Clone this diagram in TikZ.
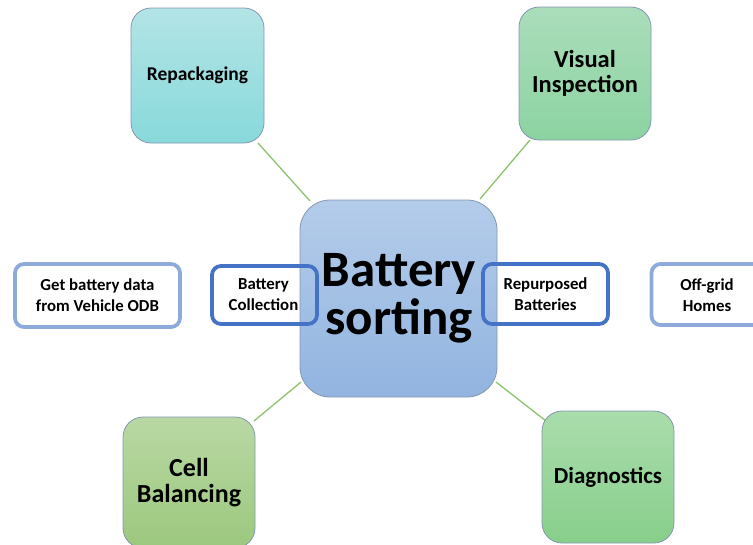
\documentclass[tikz,border=0pt]{standalone}
\usepackage{fontspec}
\setmainfont{Carlito}
\definecolor{linegreen}{HTML}{8DC26F}
\definecolor{boxgray}{HTML}{8497B0}
\definecolor{darkblue}{HTML}{4472C4}
\definecolor{lightblue}{HTML}{8EAADB}
\definecolor{repT}{HTML}{B3E4E6}\definecolor{repB}{HTML}{88D9DB}
\definecolor{visT}{HTML}{ABDDBB}\definecolor{visB}{HTML}{8CD3A1}
\definecolor{celT}{HTML}{B9D8A4}\definecolor{celB}{HTML}{9CC87E}
\definecolor{diaT}{HTML}{AADCAC}\definecolor{diaB}{HTML}{88CF8B}
\definecolor{cenT}{HTML}{B4CCEA}\definecolor{cenB}{HTML}{92B4E0}
\begin{document}
\begin{tikzpicture}[x=1pt,y=-1pt,
  bigbox/.style={draw=boxgray, line width=0.8pt, rounded corners=20pt, align=center, font=\bfseries, inner sep=0pt},
  smallbox/.style={rounded corners=9pt, line width=3.8pt, align=center, font=\bfseries\fontsize{16.8}{21}\selectfont, inner sep=0pt},
  smalltext/.style={font=\bfseries\fontsize{16.8}{21}\selectfont, align=center, inner sep=0pt},
  link/.style={linegreen, line width=1.3pt}]
\useasboundingbox (0,0) rectangle (753,544);
% connectors
\coordinate (l1a) at (258,143); \coordinate (l1b) at (310,201);
\coordinate (l2a) at (530,140); \coordinate (l2b) at (480,199);
\coordinate (l3a) at (254,421); \coordinate (l3b) at (301,382);
\coordinate (l4a) at (496,382); \coordinate (l4b) at (546,421);
\draw[link] (l1a) -- (l1b);
\draw[link] (l2a) -- (l2b);
\draw[link] (l3a) -- (l3b);
\draw[link] (l4a) -- (l4b);
% outer boxes
\node[bigbox, top color=repT, bottom color=repB, minimum width=133pt, minimum height=135pt, font=\bfseries\fontsize{19.5}{24}\selectfont] (rep) at (197.5,75.5) {Repackaging};
\node[bigbox, top color=visT, bottom color=visB, minimum width=132pt, minimum height=133pt, font=\bfseries\fontsize{24.5}{25.5}\selectfont] (vis) at (585,73.5) {Visual\\Inspection};
\node[bigbox, top color=celT, bottom color=celB, minimum width=132pt, minimum height=131pt, font=\bfseries\fontsize{26}{26.5}\selectfont] (cell) at (189,482.5) {Cell\\Balancing};
\node[bigbox, top color=diaT, bottom color=diaB, minimum width=132pt, minimum height=132pt, font=\bfseries\fontsize{23}{25}\selectfont] (diag) at (608,477) {Diagnostics};
% central box
\node[bigbox, rounded corners=30pt, top color=cenT, bottom color=cenB, minimum width=197pt, minimum height=197pt] (center) at (398.5,298.5) {};
\node[font=\bfseries\fontsize{51}{48}\selectfont, align=center, inner sep=0pt] (ctext) at (399,298) {Battery\\sorting};
% small boxes
\node[smallbox, draw=lightblue, fill=white, minimum width=165pt, minimum height=63pt] (odb) at (97.5,295.5) {Get battery data\\from Vehicle ODB};
\node[smallbox, draw=darkblue, minimum width=105pt, minimum height=58pt] (coll) at (264.5,295) {};
\node[smalltext] (colltext) at (263.5,295) {Battery\\Collection};
\node[smallbox, draw=darkblue, minimum width=125pt, minimum height=60pt] (repb) at (545.5,294) {Repurposed\\Batteries};
\node[smallbox, draw=lightblue, fill=white, minimum width=115pt, minimum height=61pt] (home) at (709,294.5) {};
\node[smalltext] (hometext) at (707,295) {Off-grid\\Homes};
\end{tikzpicture}
\end{document}
